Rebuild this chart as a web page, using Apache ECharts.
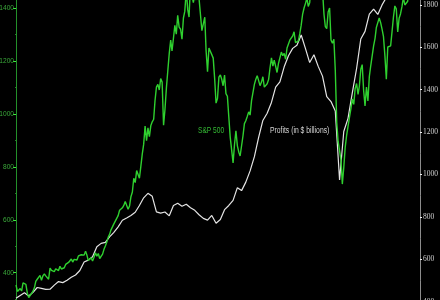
<!DOCTYPE html>
<html><head><meta charset="utf-8">
<script src="https://cdn.jsdelivr.net/npm/echarts@6/dist/echarts.min.js"></script>
<style>html,body{margin:0;padding:0;background:#000;}#c{width:440px;height:300px;}</style>
</head><body><div id="c"></div>
<script>
// S&P 500 monthly closes, Dec 1989 .. Aug 2013
const spx = [353.40,
329.08,331.89,339.94,330.80,361.23,358.02,356.15,322.56,306.05,304.00,322.22,330.22,
343.93,367.07,375.22,375.34,389.83,371.16,387.81,395.43,387.86,392.46,375.22,417.09,
408.79,412.70,403.69,414.95,415.35,408.14,424.21,414.03,417.80,418.68,431.35,435.71,
438.78,443.38,451.67,440.19,450.19,450.53,448.13,463.56,458.93,467.83,461.79,466.45,
481.61,467.14,445.77,450.91,456.50,444.27,458.26,475.49,462.69,472.35,453.69,459.27,
470.42,487.39,500.71,514.71,533.40,544.75,562.06,561.88,584.41,581.50,605.37,615.93,
636.02,640.43,645.50,654.17,669.12,670.63,639.95,651.99,687.31,705.27,757.02,740.74,
786.16,790.82,757.12,801.34,848.28,885.14,954.29,899.47,947.28,914.62,955.40,970.43,
980.28,1049.34,1101.75,1111.75,1090.82,1133.84,1120.67,957.28,1017.01,1098.67,1163.63,1229.23,
1279.64,1238.33,1286.37,1335.18,1301.84,1372.71,1328.72,1320.41,1282.71,1362.93,1388.91,1469.25,
1394.46,1366.42,1498.58,1452.43,1420.60,1454.60,1430.83,1517.68,1436.51,1429.40,1314.95,1320.28,
1366.01,1239.94,1160.33,1249.46,1255.82,1224.42,1211.23,1133.58,1040.94,1059.78,1139.45,1148.08,
1130.20,1106.73,1147.39,1076.92,1067.14,989.82,911.62,916.07,815.28,885.76,936.31,879.82,
855.70,841.15,848.18,916.92,963.59,974.50,990.31,1008.01,995.97,1050.71,1058.20,1111.92,
1131.13,1144.94,1126.21,1107.30,1120.68,1140.84,1101.72,1104.24,1114.58,1130.20,1173.82,1211.92,
1181.27,1203.60,1180.59,1156.85,1191.50,1191.33,1234.18,1220.33,1228.81,1207.01,1249.48,1248.29,
1280.08,1280.66,1294.87,1310.61,1270.09,1270.20,1276.66,1303.82,1335.85,1377.94,1400.63,1418.30,
1438.24,1406.82,1420.86,1482.37,1530.62,1503.35,1455.27,1473.99,1526.75,1549.38,1481.14,1468.36,
1378.55,1330.63,1322.70,1385.59,1400.38,1280.00,1267.38,1282.83,1166.36,968.75,896.24,903.25,
825.88,735.09,797.87,872.81,919.14,919.32,987.48,1020.62,1057.08,1036.19,1095.63,1115.10,
1073.87,1104.49,1169.43,1186.69,1089.41,1030.71,1101.60,1049.33,1141.20,1183.26,1180.55,1257.64,
1286.12,1327.22,1325.83,1363.61,1345.20,1320.64,1292.28,1218.89,1131.42,1253.30,1246.96,1257.60,
1312.41,1365.68,1408.47,1397.91,1310.33,1362.16,1379.32,1406.58,1440.67,1412.16,1416.18,1426.19,
1498.11,1514.68,1569.19,1597.57,1630.74,1606.28,1685.73,1632.97];

// Corporate profits ($ billions), quarterly, Q4 1989 .. Q2 2013
const profits = [416,429,442,427,444,467,463,458,459,478,
495,490,501,515,526,547,587,596,612,659,
675,680,706,727,753,784,795,807,822,854,
890,911,897,824,818,823,805,854,864,850,
860,843,831,810,793,785,807,770,788,834,
854,878,938,924,964,1017,1084,1175,1255,1289,
1340,1412,1437,1508,1560,1595,1610,1658,1594,1528,
1565,1510,1464,1367,1344,1300,974,1203,1265,1385,
1500,1639,1675,1756,1780,1755,1800,1835,1860,1880,
1900,1910,1930,1950,1960];

const leftTicks = {min: 200, max: 1600, interval: 200};
const rightTicks = {min: 400, max: 2000, interval: 200};
const seriesNames = ['S&P 500', 'Profits (in $ billions)'];

function monthEnd(y, m) { return Date.UTC(y, m + 1, 0); }
const spxData = spx.map((v, i) => [monthEnd(1989, 11 + i), v]);
const profitData = profits.map((v, i) => [monthEnd(1989, 11 + 3 * i), v]);
const xMin = monthEnd(1989, 11);
const xMax = Date.UTC(2013, 8, 21);

const sans = '"Liberation Sans",Arial,sans-serif';
const plain = v => String(v);

const chart = echarts.init(document.getElementById('c'), null, {renderer: 'canvas'});
chart.setOption({
  backgroundColor: '#000',
  animation: false,
  grid: [
    {left: 16, right: 20, top: -44.7, bottom: -25.6, containLabel: false, outerBoundsMode: 'none'},
    {left: 16, right: 20, top: -37.5, bottom: -1.7, containLabel: false, outerBoundsMode: 'none'}
  ],
  xAxis: [
    {type: 'time', gridIndex: 0, min: xMin, max: xMax, show: false},
    {type: 'time', gridIndex: 1, min: xMin, max: xMax, show: false}
  ],
  yAxis: [
    {type: 'value', gridIndex: 0, position: 'left', min: leftTicks.min, max: leftTicks.max, interval: leftTicks.interval,
     axisLine: {show: true, lineStyle: {color: '#23902a', width: 1}},
     axisTick: {show: true, length: 3, lineStyle: {color: '#3cf03c'}},
     minorTick: {show: true, splitNumber: 2, length: 1, lineStyle: {color: '#2a7a2a'}},
     splitLine: {show: false},
     axisLabel: {color: '#3aa83a', fontSize: 6.6, fontFamily: sans, margin: 2, formatter: plain}},
    {type: 'value', gridIndex: 1, position: 'right', min: rightTicks.min, max: rightTicks.max, interval: rightTicks.interval,
     axisLine: {show: true, lineStyle: {color: '#8c8c8c', width: 1}},
     axisTick: {show: true, length: 2, lineStyle: {color: '#f0f0f0'}},
     minorTick: {show: true, splitNumber: 2, length: 1, lineStyle: {color: '#777'}},
     splitLine: {show: false},
     axisLabel: {color: '#d0d0d0', fontSize: 7.5, fontFamily: '"Liberation Serif",serif', margin: 3, formatter: plain}}
  ],
  series: [
    {name: seriesNames[1], type: 'line', xAxisIndex: 1, yAxisIndex: 1, data: profitData,
     showSymbol: false, symbol: 'none', z: 2,
     lineStyle: {color: '#e4e4e4', width: 1.2}},
    {name: seriesNames[0], type: 'line', xAxisIndex: 0, yAxisIndex: 0, data: spxData,
     showSymbol: false, symbol: 'none', z: 3,
     lineStyle: {color: '#2fd02f', width: 1.4}}
  ],
  graphic: [
    {type: 'text', x: 198, y: 131, scaleX: 0.78, style: {text: seriesNames[0], fill: '#33b833', fontSize: 8.5, fontFamily: sans, verticalAlign: 'middle'}},
    {type: 'text', x: 270, y: 131, scaleX: 0.8, style: {text: seriesNames[1], fill: '#d6d6d6', fontSize: 8.5, fontFamily: sans, verticalAlign: 'middle'}}
  ]
});
</script></body></html>
